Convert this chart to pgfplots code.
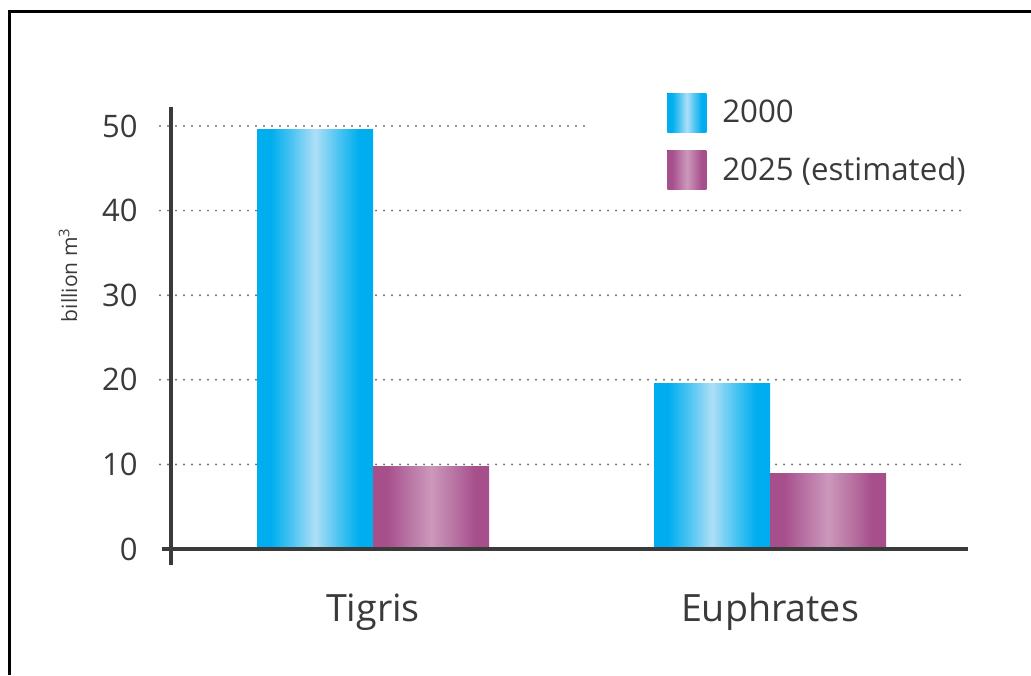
\documentclass[border=0pt]{standalone}
\usepackage{pgfplots}
\pgfplotsset{compat=1.18}
\usepackage{fontspec}
\setmainfont{Open Sans}
\definecolor{txt}{HTML}{3A3A3A}
\definecolor{axc}{HTML}{3A3A3A}
\definecolor{bdark}{HTML}{00AEEF}
\definecolor{bmid}{HTML}{4CC4F2}
\definecolor{blight}{HTML}{AEDFF7}
\definecolor{pdark}{HTML}{A64F8B}
\definecolor{pmid}{HTML}{B873A3}
\definecolor{plight}{HTML}{CC98BB}
\definecolor{gridc}{HTML}{707070}
\pgfdeclarehorizontalshading{bshade}{100bp}{color(0bp)=(bdark); color(31bp)=(bdark); color(40bp)=(bmid); color(50bp)=(blight); color(60bp)=(bmid); color(69bp)=(bdark); color(100bp)=(bdark)}
\pgfdeclarehorizontalshading{pshade}{100bp}{color(0bp)=(pdark); color(31bp)=(pdark); color(40bp)=(pmid); color(50bp)=(plight); color(60bp)=(pmid); color(69bp)=(pdark); color(100bp)=(pdark)}
\begin{document}
\begin{tikzpicture}
\path[use as bounding box] (0,0) rectangle (515.5pt,337.5pt);
\draw[line width=1.5pt, black] (4.75pt,0) -- (4.75pt,331.5pt) -- (515.5pt,331.5pt);
\begin{axis}[
  at={(85.5pt,63pt)}, anchor=south west,
  scale only axis, width=398.5pt, height=211.5pt,
  xmin=-0.5088, xmax=1.4987, ymin=0, ymax=50,
  clip=false,
  axis line style={draw=none}, tick style={draw=none},
  major tick length=0pt,
  ytick={0,10,20,30,40,50},
  xtick={0,1}, xticklabels={Tigris, Euphrates},
  /pgf/number format/assume math mode=true,
  yticklabel style={anchor=east, inner sep=0pt, xshift=-16.5pt, font=\fontsize{15.5}{18}\selectfont, text=txt},
  xticklabel style={anchor=base, inner sep=0pt, yshift=-36pt, font=\fontsize{18.8}{22}\selectfont, text=txt},
  every axis y label/.style={at={(axis description cs:-0.1292,0.6478)}, rotate=90, anchor=center, font=\fontsize{10.5}{12}\selectfont, text=txt},
  ylabel={billion m\textsuperscript{3}},
  legend style={at={(axis description cs:0.6223,1.078)}, anchor=north west, inner sep=0pt, draw=none, fill=none, row sep=9pt, column sep=8pt, nodes={inner sep=0pt}, font=\fontsize{15.6}{18}\selectfont, text=txt},
  legend cell align=left,
  legend image code/.code={\fill[#1] (0pt,-9.75pt) rectangle (19.5pt,9.75pt);},
]
% grid lines
\draw[gridc, line width=1.1pt, line cap=round, dash pattern=on 0pt off 4pt] (axis cs:-0.5365,10) -- (axis cs:1.4987,10);
\draw[gridc, line width=1.1pt, line cap=round, dash pattern=on 0pt off 4pt] (axis cs:-0.5365,20) -- (axis cs:1.4987,20);
\draw[gridc, line width=1.1pt, line cap=round, dash pattern=on 0pt off 4pt] (axis cs:-0.5365,30) -- (axis cs:1.4987,30);
\draw[gridc, line width=1.1pt, line cap=round, dash pattern=on 0pt off 4pt] (axis cs:-0.5365,40) -- (axis cs:1.4987,40);
\draw[gridc, line width=1.1pt, line cap=round, dash pattern=on 0pt off 4pt] (axis cs:-0.5365,50) -- (axis cs:0.5466,50);
% bars
\addplot[ybar, bar width=58pt, bar shift=-29pt, draw=none, shading=bshade] coordinates {(0,49.6)};
\addlegendentry{2000}
\addplot[ybar, bar width=58pt, bar shift=29pt, draw=none, shading=pshade] coordinates {(0,9.8)};
\addlegendentry{2025 (estimated)}
\addplot[ybar, bar width=58pt, bar shift=-29pt, draw=none, shading=bshade, forget plot] coordinates {(1,19.6)};
\addplot[ybar, bar width=58pt, bar shift=29pt, draw=none, shading=pshade, forget plot] coordinates {(1,8.9)};
% axis lines
\draw[axc, line width=2pt] (axis cs:-0.5088,-1.89) -- (axis cs:-0.5088,52.25);
\draw[axc, line width=2pt] (axis cs:-0.5315,0) -- (axis cs:1.4987,0);
\end{axis}
\end{tikzpicture}
\end{document}
